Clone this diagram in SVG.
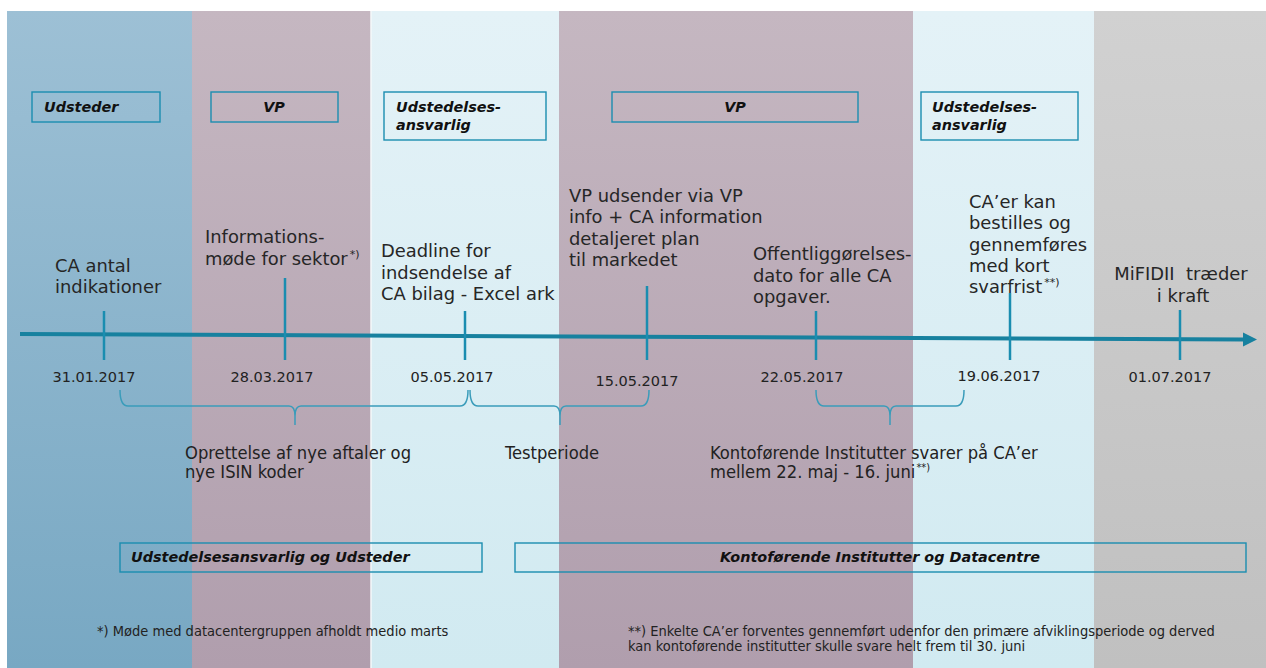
<svg xmlns="http://www.w3.org/2000/svg" width="1266" height="668" viewBox="0 0 1266 668">
<defs>
<linearGradient id="gBlue" x1="0" y1="0" x2="0" y2="1"><stop offset="0" stop-color="#9dc0d5"/><stop offset="1" stop-color="#78a8c3"/></linearGradient>
<linearGradient id="gMauve" x1="0" y1="0" x2="0" y2="1"><stop offset="0" stop-color="#c5b7c1"/><stop offset="1" stop-color="#b09ead"/></linearGradient>
<linearGradient id="gCyan" x1="0" y1="0" x2="0" y2="1"><stop offset="0" stop-color="#e4f2f7"/><stop offset="1" stop-color="#d1eaf1"/></linearGradient>
<linearGradient id="gGray" x1="0" y1="0" x2="0" y2="1"><stop offset="0" stop-color="#d1d1d1"/><stop offset="1" stop-color="#c0c0c0"/></linearGradient>
<style>
.ev{font-family:"DejaVu Sans",Verdana,sans-serif;font-size:17.9px;fill:#262626}
.dt{font-family:"DejaVu Sans",Verdana,sans-serif;font-size:14.5px;fill:#222}
.bx{fill:none;stroke:#1b8db0;stroke-width:1.4}
.bl{font-family:"DejaVu Sans",Verdana,sans-serif;font-size:14.4px;font-weight:bold;font-style:italic;fill:#111}
.tk{stroke:#1a8db0;stroke-width:2.5}
.br{fill:none;stroke:#3a9cba;stroke-width:1.5}
.lb{font-family:"DejaVu Sans Condensed","DejaVu Sans",sans-serif;font-stretch:condensed;font-size:18.2px;fill:#222}
.fn{font-family:"DejaVu Sans Condensed","DejaVu Sans",sans-serif;font-stretch:condensed;font-size:14.5px;fill:#222}
.sup{font-size:11px}
</style>
</defs>
<rect x="0" y="0" width="1266" height="668" fill="#ffffff"/>
<g id="bands">
<rect x="7" y="11" width="185" height="657" fill="url(#gBlue)"/>
<rect x="192" y="11" width="179" height="657" fill="url(#gMauve)"/>
<rect x="371" y="11" width="188" height="657" fill="url(#gCyan)"/>
<rect x="559" y="11" width="354" height="657" fill="url(#gMauve)"/>
<rect x="913" y="11" width="181" height="657" fill="url(#gCyan)"/>
<rect x="1094" y="11" width="172" height="657" fill="url(#gGray)"/>
<line x1="371" y1="11" x2="371" y2="668" stroke="#f4f8fa" stroke-width="1.5"/>
</g>
<g id="roles">
<g id="role-udsteder"><rect class="bx" x="32" y="92" width="128" height="30"/><text class="bl" x="44" y="112">Udsteder</text></g>
<g id="role-vp1"><rect class="bx" x="211" y="92" width="127" height="30"/><text class="bl" x="274" y="112" text-anchor="middle">VP</text></g>
<g id="role-ua1"><rect class="bx" x="384" y="92" width="162" height="48"/><text class="bl" x="396" y="112">Udstedelses-</text><text class="bl" x="396" y="130">ansvarlig</text></g>
<g id="role-vp2"><rect class="bx" x="612" y="92" width="246" height="30"/><text class="bl" x="735" y="112" text-anchor="middle">VP</text></g>
<g id="role-ua2"><rect class="bx" x="921" y="92" width="157" height="48"/><text class="bl" x="932" y="112">Udstedelses-</text><text class="bl" x="932" y="130">ansvarlig</text></g>
</g>
<g id="connectors">
<polyline points="20,334 1245,339.5" fill="none" stroke="#17819f" stroke-width="4"/>
<polygon points="1243,332.5 1257,339.5 1243,346.5" fill="#17819f"/>
<line class="tk" x1="104" y1="311" x2="104" y2="360"/>
<line class="tk" x1="285" y1="278" x2="285" y2="360"/>
<line class="tk" x1="465" y1="311" x2="465" y2="360"/>
<line class="tk" x1="647" y1="286" x2="647" y2="360"/>
<line class="tk" x1="816" y1="311" x2="816" y2="360"/>
<line class="tk" x1="1010" y1="293" x2="1010" y2="360"/>
<line class="tk" x1="1180" y1="310" x2="1180" y2="360"/>
<path class="br" d="M120,390 Q120,406 128,406 H289 Q295,406 295,416 V425 M295,416 Q295,406 301,406 H460 Q468,406 468,390"/>
<path class="br" d="M470,390 Q470,406 478,406 H554 Q560,406 560,416 V425 M560,416 Q560,406 566,406 H641 Q649,406 649,390"/>
<path class="br" d="M816,390 Q816,406 824,406 H884 Q890,406 890,416 V425 M890,416 Q890,406 896,406 H956 Q964,406 964,390"/>
</g>
<g id="events">
<g id="ev1"><text class="ev" x="55" y="272">CA antal</text><text class="ev" x="55" y="293">indikationer</text><text class="dt" x="94" y="382" text-anchor="middle">31.01.2017</text></g>
<g id="ev2"><text class="ev" x="205" y="243">Informations-</text><text class="ev" x="205" y="265">møde for sektor<tspan class="sup" dx="2" dy="-7">*)</tspan></text><text class="dt" x="272" y="382" text-anchor="middle">28.03.2017</text></g>
<g id="ev3"><text class="ev" x="381" y="257">Deadline for</text><text class="ev" x="381" y="279">indsendelse af</text><text class="ev" x="381" y="300">CA bilag - Excel ark</text><text class="dt" x="452" y="382" text-anchor="middle">05.05.2017</text></g>
<g id="ev4"><text class="ev" x="569" y="202">VP udsender via VP</text><text class="ev" x="569" y="223">info + CA information</text><text class="ev" x="569" y="245">detaljeret plan</text><text class="ev" x="569" y="266">til markedet</text><text class="dt" x="637" y="386" text-anchor="middle">15.05.2017</text></g>
<g id="ev5"><text class="ev" x="753" y="260">Offentliggørelses-</text><text class="ev" x="753" y="282">dato for alle CA</text><text class="ev" x="753" y="303">opgaver.</text><text class="dt" x="802" y="382" text-anchor="middle">22.05.2017</text></g>
<g id="ev6"><text class="ev" x="969" y="208">CA’er kan</text><text class="ev" x="969" y="229">bestilles og</text><text class="ev" x="969" y="251">gennemføres</text><text class="ev" x="969" y="272">med kort</text><text class="ev" x="969" y="293">svarfrist<tspan class="sup" dx="2" dy="-7">**)</tspan></text><text class="dt" x="999" y="381" text-anchor="middle">19.06.2017</text></g>
<g id="ev7"><text class="ev" x="1181" y="280" text-anchor="middle" xml:space="preserve">MiFIDII  træder</text><text class="ev" x="1183" y="302" text-anchor="middle">i kraft</text><text class="dt" x="1170" y="382" text-anchor="middle">01.07.2017</text></g>
</g>
<g id="periods">
<g id="p1"><text class="lb" x="185" y="459">Oprettelse af nye aftaler og</text><text class="lb" x="185" y="478">nye ISIN koder</text></g>
<g id="p2"><text class="lb" x="505" y="459">Testperiode</text></g>
<g id="p3"><text class="lb" x="710" y="459">Kontoførende Institutter svarer på CA’er</text><text class="lb" x="710" y="478">mellem 22. maj - 16. juni<tspan class="sup" dx="1" dy="-7">**)</tspan></text></g>
</g>
<g id="groups">
<g id="grp1"><rect class="bx" x="120" y="543" width="362" height="29"/><text class="bl" x="131" y="562">Udstedelsesansvarlig og Udsteder</text></g>
<g id="grp2"><rect class="bx" x="515" y="543" width="731" height="29"/><text class="bl" x="880" y="562" text-anchor="middle">Kontoførende Institutter og Datacentre</text></g>
</g>
<g id="footnotes">
<text class="fn" x="97" y="636">*) Møde med datacentergruppen afholdt medio marts</text>
<text class="fn" x="628" y="636">**) Enkelte CA’er forventes gennemført udenfor den primære afviklingsperiode og derved</text>
<text class="fn" x="628" y="651">kan kontoførende institutter skulle svare helt frem til 30. juni</text>
</g>
</svg>
